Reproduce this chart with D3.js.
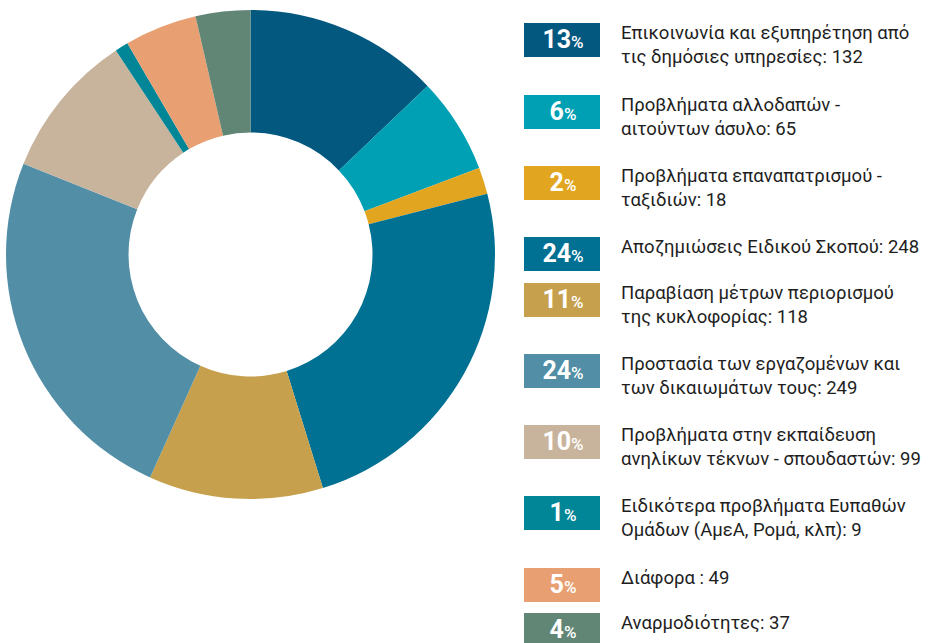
<!DOCTYPE html>
<html>
<head>
<meta charset="utf-8">
<script src="https://cdn.jsdelivr.net/npm/d3@7"></script>
<style>
  body { margin: 0; background: #fff; }
  svg { display: block; font-family: Roboto, "Noto Sans", sans-serif; }
</style>
</head>
<body>
<svg width="931" height="643"></svg>
<script>
// data
var labels = [
  ["Επικοινωνία και εξυπηρέτηση από", "τις δημόσιες υπηρεσίες: 132"],
  ["Προβλήματα αλλοδαπών -", "αιτούντων άσυλο: 65"],
  ["Προβλήματα επαναπατρισμού -", "ταξιδιών: 18"],
  ["Αποζημιώσεις Ειδικού Σκοπού: 248"],
  ["Παραβίαση μέτρων περιορισμού", "της κυκλοφορίας: 118"],
  ["Προστασία των εργαζομένων και", "των δικαιωμάτων τους: 249"],
  ["Προβλήματα στην εκπαίδευση", "ανηλίκων τέκνων - σπουδαστών: 99"],
  ["Ειδικότερα προβλήματα Ευπαθών", "Ομάδων (ΑμεΑ, Ρομά, κλπ): 9"],
  ["Διάφορα : 49"],
  ["Αναρμοδιότητες: 37"]
];
var values = [132, 65, 18, 248, 118, 249, 99, 9, 49, 37];
var percents = [13, 6, 2, 24, 11, 24, 10, 1, 5, 4];
var colors = ["#03587f", "#00a0b4", "#e2a520", "#007093", "#c6a04c",
              "#528fa7", "#c8b49c", "#008696", "#e8a073", "#628676"];
// legend rows are not evenly spaced in the original
var legendTops = [23, 95, 166, 237, 283, 354, 425, 496, 568, 613];

var svg = d3.select("svg");

var color = d3.scaleOrdinal().domain(d3.range(values.length)).range(colors);

var pie = d3.pie().sort(null).value(function(d) { return d; });
var arc = d3.arc().innerRadius(122).outerRadius(244.5);

var donut = svg.append("g")
    .attr("transform", "translate(250.5,254.5)");

donut.selectAll("path")
    .data(pie(values))
    .enter()
    .append("path")
    .attr("d", arc)
    .attr("fill", function(d, i) { return color(i); });

// legend
var y = d3.scaleOrdinal().domain(d3.range(values.length)).range(legendTops);

var item = svg.append("g")
    .selectAll("g")
    .data(values)
    .enter()
    .append("g")
    .attr("transform", function(d, i) { return "translate(524," + y(i) + ")"; });

item.append("rect")
    .attr("width", 76)
    .attr("height", 34)
    .attr("fill", function(d, i) { return color(i); });

var pct = item.append("text")
    .attr("x", 39)
    .attr("y", 25)
    .attr("text-anchor", "middle")
    .attr("fill", "#fff");
pct.append("tspan")
    .attr("font-size", 25)
    .attr("font-weight", "bold")
    .text(function(d, i) { return percents[i]; });
pct.append("tspan")
    .attr("font-size", 17)
    .attr("font-weight", 500)
    .text("%");

item.append("text")
    .attr("x", 97)
    .attr("y", 16)
    .attr("font-size", 18.5)
    .attr("fill", "#1e1e1e")
    .selectAll("tspan")
    .data(function(d, i) { return labels[i]; })
    .enter()
    .append("tspan")
    .attr("x", 97)
    .attr("dy", function(d, j) { return j ? 24 : 0; })
    .text(function(d) { return d; });
</script>
</body>
</html>
